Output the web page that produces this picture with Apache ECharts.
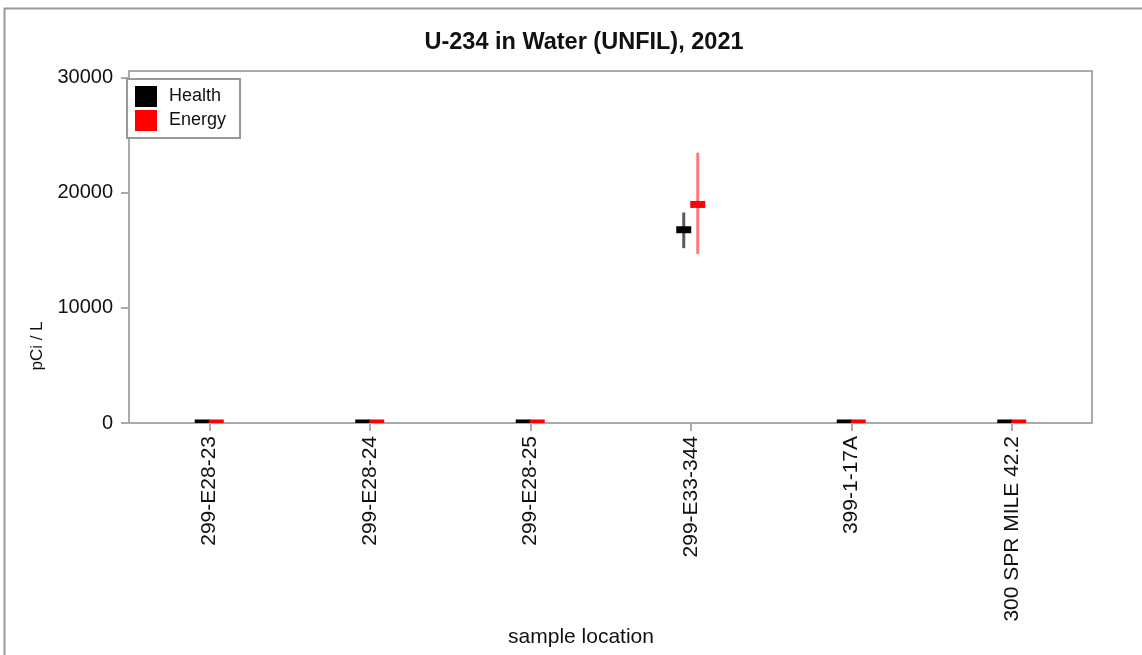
<!DOCTYPE html>
<html>
<head>
<meta charset="utf-8">
<script src="https://cdn.jsdelivr.net/npm/echarts@6/dist/echarts.min.js"></script>
<style>
html,body{margin:0;padding:0;background:#fff;}
#chart{width:1142px;height:655px;}
</style>
</head>
<body>
<div id="chart"></div>
<script>
// ---- data ----
const categories = ['299-E28-23', '299-E28-24', '299-E28-25', '299-E33-344', '399-1-17A', '300 SPR MILE 42.2'];
const healthValues = [3, 2, 3, 16800, 2, 1];
const healthLow    = [1, 1, 1, 15200, 1, 0];
const healthHigh   = [5, 3, 5, 18300, 3, 2];
const energyValues = [3, 3, 3, 19000, 2, 1];
const energyLow    = [1, 1, 1, 14700, 1, 0];
const energyHigh   = [5, 5, 5, 23500, 3, 2];
const yTicks = [0, 10000, 20000, 30000];
const yMax = 30600;

const FONT = 'Liberation Sans, Arial, sans-serif';

function buildData(vals, lo, hi) {
  return categories.map((c, i) => [i, vals[i], lo[i], hi[i]]);
}

function makeRender(dx, color, errColor) {
  return function (params, api) {
    const x = api.value(0);
    const c = api.coord([x, api.value(1)]);
    const l = api.coord([x, api.value(2)]);
    const h = api.coord([x, api.value(3)]);
    const cx = c[0] + dx;
    return {
      type: 'group',
      children: [
        { type: 'line', shape: { x1: cx, y1: l[1], x2: cx, y2: h[1] },
          style: { stroke: errColor, lineWidth: 3 } },
        { type: 'rect', shape: { x: cx - 7.5, y: c[1] - 3.5, width: 15, height: 7 },
          style: { fill: color } }
      ]
    };
  };
}

const chart = echarts.init(document.getElementById('chart'), null, { renderer: 'canvas' });
chart.setOption({
  animation: false,
  backgroundColor: '#fff',
  textStyle: { fontFamily: FONT },
  title: {
    text: 'U-234 in Water (UNFIL), 2021',
    left: 579, top: 26, textAlign: 'center',
    textStyle: { fontFamily: FONT, fontSize: 23.5, fontWeight: 'bold', color: '#111' }
  },
  legend: {
    orient: 'vertical',
    left: 127, top: 79,
    padding: [7, 14, 7, 8],
    itemGap: 3,
    itemWidth: 22, itemHeight: 21,
    icon: 'rect',
    borderColor: '#999', borderWidth: 2,
    backgroundColor: '#fff',
    textStyle: { fontFamily: FONT, fontSize: 18, color: '#111', padding: [0, 0, 0, 7] },
    data: ['Health', 'Energy']
  },
  grid: {
    left: 129, right: 50, top: 71, bottom: 232,
    show: true, borderColor: '#aaa', borderWidth: 2, backgroundColor: 'transparent'
  },
  xAxis: {
    type: 'category',
    data: categories,
    boundaryGap: true,
    axisLine: { show: false },
    axisTick: { show: true, alignWithLabel: true, length: 8, lineStyle: { color: '#aaa', width: 2 } },
    axisLabel: { rotate: 90, fontFamily: FONT, fontSize: 21, color: '#111', margin: 13 },
    splitLine: { show: false }
  },
  yAxis: {
    type: 'value',
    min: 0, max: yMax, interval: 10000,
    axisLine: { show: false },
    axisTick: { show: true, length: 8, customValues: yTicks, lineStyle: { color: '#aaa', width: 2 } },
    axisLabel: { fontFamily: FONT, fontSize: 20, color: '#111', margin: 16, customValues: yTicks,
      formatter: v => String(v) },
    splitLine: { show: false }
  },
  graphic: [
    { type: 'polyline', silent: true, z: -1,
      shape: { points: [[4.5, 655], [4.5, 8.5], [1142, 8.5]] },
      style: { stroke: '#999', lineWidth: 2, fill: null } },
    { type: 'text', x: 37, y: 346, rotation: Math.PI / 2,
      style: { text: 'pCi / L', fontFamily: FONT, fontSize: 17, fill: '#111', align: 'center', verticalAlign: 'middle' } },
    { type: 'text', x: 581, y: 637,
      style: { text: 'sample location', fontFamily: FONT, fontSize: 21, fill: '#111', align: 'center', verticalAlign: 'middle' } }
  ],
  series: [
    { name: 'Health', type: 'custom', color: '#000', clip: true,
      renderItem: makeRender(-7, '#000', '#5a5a5a'),
      encode: { x: 0, y: 1 },
      data: buildData(healthValues, healthLow, healthHigh) },
    { name: 'Energy', type: 'custom', color: '#ff0000', clip: true,
      renderItem: makeRender(7, '#ff0000', '#ff7a7a'),
      encode: { x: 0, y: 1 },
      data: buildData(energyValues, energyLow, energyHigh) }
  ]
});
</script>
</body>
</html>
